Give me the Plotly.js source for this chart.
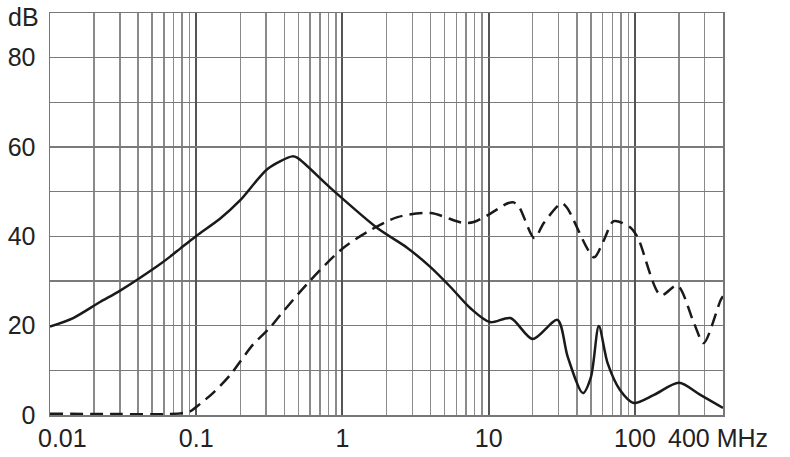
<!DOCTYPE html>
<html>
<head>
<meta charset="utf-8">
<script src="https://cdn.plot.ly/plotly-3.0.1.min.js"></script>
<style>
  html, body { margin: 0; padding: 0; background: #fff; }
  #chart { width: 790px; height: 457px; }
</style>
</head>
<body>
<div id="chart"></div>
<script>
// Attenuation curves (frequency in MHz, level in dB)
const solidFreq = [0.01, 0.0144, 0.022, 0.03, 0.054, 0.066, 0.078, 0.1, 0.146, 0.2, 0.31, 0.454, 0.49, 0.83, 1.74, 2.78, 4.0, 5.5, 7.5, 10.2, 14.1, 20, 29.5, 34.7, 44, 50, 56.6, 65, 79, 98, 135, 200, 280, 400];
const solidDb = [19.8, 21.7, 25.3, 27.8, 33.3, 35.4, 37.3, 40.1, 44, 48.1, 55.2, 57.9, 57.6, 50.8, 41.8, 37.4, 33.1, 28.6, 23.9, 20.8, 21.7, 17, 21.3, 13, 4.9, 8.5, 19.9, 11.6, 5.6, 2.7, 4.5, 7.2, 4.5, 1.6];

const dashFreq = [0.01, 0.03, 0.06, 0.08, 0.091, 0.1, 0.13, 0.171, 0.2, 0.245, 0.32, 0.376, 0.575, 0.97, 1.48, 2.38, 4.0, 6.7, 7.9, 9.8, 13.5, 14.8, 16.2, 20.5, 23.8, 31.6, 34.5, 52.5, 61, 71.6, 93, 105, 150, 195, 253, 295, 385, 400];
const dashDb = [0.3, 0.2, 0.2, 0.4, 0.8, 1.8, 4.9, 9, 12, 15.8, 19.6, 22.4, 29.4, 36.9, 41, 44.3, 45.2, 43, 43.2, 44.7, 47.4, 47.6, 46.5, 39.6, 43, 47.4, 46.3, 35.3, 39, 43.4, 42, 39.6, 26.8, 29, 20.6, 16.1, 25.7, 26.6];

const xTickVals = [0.01, 0.1, 1, 10, 100];
const xTickText = ["", "0.1", "1", "10", "100"];
const yTickVals = [0, 20, 40, 60, 80];
const yTickText = ["0", "20", "40", "60", "80"];

// minor log grid: 2..9 of every decade, up to 400 MHz
const xMinor = [];
xTickVals.forEach(function (d) {
  for (let m = 2; m <= 9; m++) {
    if (m * d <= 400) xMinor.push(m * d);
  }
});

const labelFont = { family: "Liberation Sans, Arial, sans-serif", size: 25, color: "#222" };

const solid = {
  x: solidFreq,
  y: solidDb,
  type: "scatter",
  mode: "lines",
  line: { color: "#1a1a1a", width: 2.5, shape: "spline", smoothing: 0.8 },
  hoverinfo: "skip",
};

const dashed = {
  x: dashFreq,
  y: dashDb,
  type: "scatter",
  mode: "lines",
  line: { color: "#1a1a1a", width: 2.5, dash: "13px,7px", shape: "spline", smoothing: 0.8 },
  hoverinfo: "skip",
};

const layout = {
  width: 790,
  height: 457,
  margin: { t: 13, l: 50, r: 67, b: 42 },
  paper_bgcolor: "#fff",
  plot_bgcolor: "#fff",
  showlegend: false,
  font: labelFont,
  xaxis: {
    type: "log",
    range: [Math.log10(0.01), Math.log10(400)],
    tickmode: "array",
    tickvals: xTickVals,
    ticktext: xTickText,
    ticks: "",
    showgrid: true,
    gridcolor: "#555",
    gridwidth: 2,
    zeroline: false,
    showline: true,
    mirror: true,
    linecolor: "#777",
    linewidth: 1.5,
    tickfont: labelFont,
    minor: {
      tickmode: "array",
      tickvals: xMinor,
      showgrid: true,
      gridcolor: "#8a8a8a",
      gridwidth: 1.5,
      ticks: "",
    },
  },
  yaxis: {
    range: [0, 90],
    tickmode: "array",
    tickvals: yTickVals,
    ticktext: yTickText,
    ticks: "",
    ticklabelstandoff: 8,
    showgrid: true,
    gridcolor: "#7a7a7a",
    gridwidth: 1.5,
    zeroline: false,
    showline: true,
    mirror: true,
    linecolor: "#777",
    linewidth: 1.5,
    tickfont: labelFont,
    minor: {
      tickmode: "array",
      tickvals: [10, 30, 50, 70, 90],
      showgrid: true,
      gridcolor: "#7a7a7a",
      gridwidth: 1.5,
      ticks: "",
    },
  },
  annotations: [
    {
      text: "dB",
      xref: "paper", yref: "paper",
      x: -0.014, y: 0.99,
      xanchor: "right", yanchor: "middle",
      showarrow: false,
      font: labelFont,
    },
    {
      text: "0.01",
      xref: "paper", yref: "paper",
      x: 0.018, y: -0.057,
      xanchor: "center", yanchor: "middle",
      showarrow: false,
      font: labelFont,
    },
    {
      text: "400 MHz",
      xref: "paper", yref: "paper",
      x: 0.915, y: -0.057,
      xanchor: "left", yanchor: "middle",
      showarrow: false,
      font: labelFont,
    },
  ],
};

Plotly.newPlot("chart", [dashed, solid], layout, { displayModeBar: false, staticPlot: true });
</script>
</body>
</html>
